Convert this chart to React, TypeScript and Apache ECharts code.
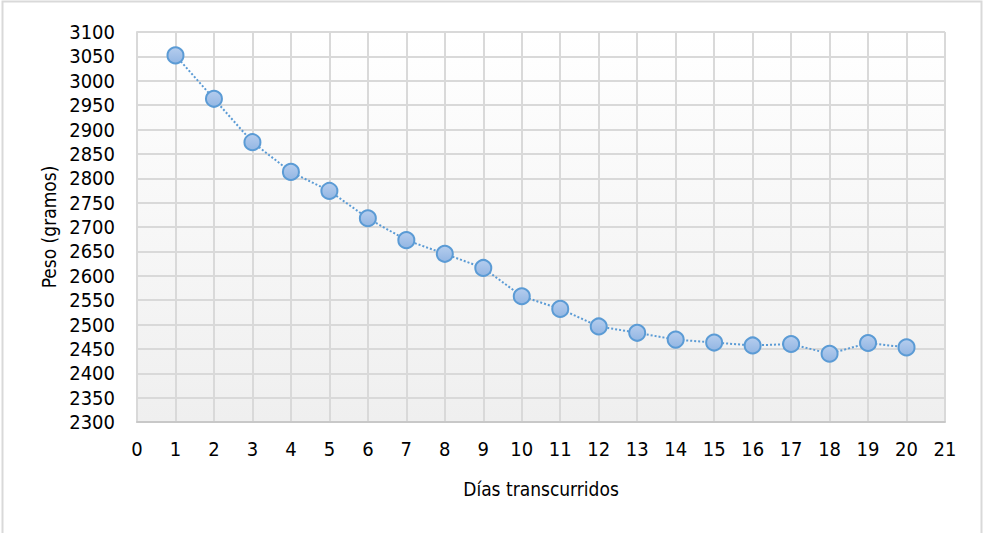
import React, { useEffect, useRef } from "react";
import * as echarts from "echarts";

const days = [1, 2, 3, 4, 5, 6, 7, 8, 9, 10, 11, 12, 13, 14, 15, 16, 17, 18, 19, 20];
const weights = [3052, 2963, 2874, 2813, 2774, 2718, 2673, 2645, 2616, 2558, 2532, 2496, 2483, 2469, 2463, 2457, 2460, 2440, 2462, 2453];
const xTitle = "Días transcurridos";
const yTitle = "Peso (gramos)";

const FONT = "'Liberation Sans Narrow', 'DejaVu Sans Condensed', 'Liberation Sans', Arial, sans-serif";

export default function App() {
  const ref = useRef<HTMLDivElement>(null);
  useEffect(() => {
    document.body.style.margin = "0";
    if (!ref.current) return;
    const chart = echarts.init(ref.current, undefined, { renderer: "svg" });
    chart.setOption({
      animation: false,
      backgroundColor: "#ffffff",
      graphic: [
        {
          type: "rect",
          shape: { x: 2.5, y: 1.5, width: 979, height: 540 },
          style: { fill: "none", stroke: "#d9d9d9", lineWidth: 2 },
          silent: true,
        },
        {
          type: "rect",
          shape: { x: 137, y: 32, width: 808, height: 390 },
          style: {
            fill: new echarts.graphic.LinearGradient(0, 0, 0, 1, [
              { offset: 0, color: "#ffffff" },
              { offset: 1, color: "#efefef" },
            ]),
          },
          z: -1,
          silent: true,
        },
      ],
      grid: { left: 137, top: 32, width: 808, height: 390, containLabel: false },
      xAxis: {
        type: "value",
        min: 0,
        max: 21,
        interval: 1,
        name: xTitle,
        nameLocation: "middle",
        nameGap: 57,
        nameTextStyle: { fontFamily: FONT, fontSize: 19, color: "#000" },
        axisLine: { show: true, lineStyle: { color: "#c8c8c8", width: 2 } },
        axisTick: { show: false },
        axisLabel: { fontFamily: FONT, fontSize: 20, color: "#000", margin: 17 },
        splitLine: { show: true, lineStyle: { color: "#d9d9d9", width: 2 } },
      },
      yAxis: {
        type: "value",
        min: 2300,
        max: 3100,
        interval: 50,
        name: yTitle,
        nameLocation: "middle",
        nameGap: 67,
        nameTextStyle: { fontFamily: FONT, fontSize: 19, color: "#000" },
        axisLine: { show: true, lineStyle: { color: "#d9d9d9", width: 2 } },
        axisTick: { show: false },
        axisLabel: {
          fontFamily: FONT,
          fontSize: 20,
          color: "#000",
          margin: 22,
          formatter: (v: number) => String(v),
        },
        splitLine: { show: true, lineStyle: { color: "#d9d9d9", width: 2 } },
      },
      series: [
        {
          type: "line",
          data: days.map((d, i) => [d, weights[i]]),
          symbol: "circle",
          symbolSize: 16,
          lineStyle: { color: "#5b9bd5", width: 2, type: [2, 2] },
          itemStyle: {
            color: new echarts.graphic.LinearGradient(0, 0, 0, 1, [
              { offset: 0, color: "#b5cdee" },
              { offset: 1, color: "#93b6e3" },
            ]),
            borderColor: "#5b9bd5",
            borderWidth: 2,
          },
        },
      ],
    });
    return () => chart.dispose();
  }, []);
  return <div ref={ref} style={{ width: 985, height: 533 }} />;
}
